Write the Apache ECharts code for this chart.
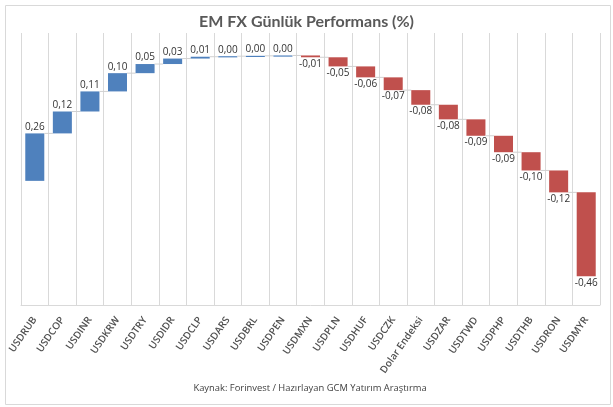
<!DOCTYPE html>
<html>
<head>
<meta charset="utf-8">
<script src="https://cdn.jsdelivr.net/npm/echarts@6/dist/echarts.min.js"></script>
<style>html,body{margin:0;padding:0;background:#fff}#c{width:613px;height:407px}</style>
</head>
<body>
<div id="c"></div>
<script>
const categories = ['USDRUB','USDCOP','USDINR','USDKRW','USDTRY','USDIDR','USDCLP','USDARS','USDBRL','USDPEN','USDMXN','USDPLN','USDHUF','USDCZK','Dolar Endeksi','USDZAR','USDTWD','USDPHP','USDTHB','USDRON','USDMYR'];
const values = [0.26,0.12,0.11,0.10,0.05,0.03,0.01,0.003,0.002,0.002,-0.01,-0.05,-0.06,-0.07,-0.08,-0.08,-0.09,-0.09,-0.10,-0.12,-0.46];
const titleText = 'EM FX Günlük Performans (%)';
const sourceText = 'Kaynak: Forinvest / Hazırlayan GCM Yatırım Araştırma';

const UP = '#4F81BD', DOWN = '#C0504D';
const FONT = '"Open Sans", sans-serif';

// waterfall items: [index, start, end, value]
const items = [];
let cum = 0;
values.forEach((v, i) => { items.push([i, cum, cum + v, v]); cum += v; });

function fmt(v) { return v.toFixed(2).replace('.', ','); }

const chart = echarts.init(document.getElementById('c'), null, {renderer: 'canvas'});
chart.setOption({
  animation: false,
  title: {
    text: titleText, left: 'center', top: 9,
    textStyle: {fontFamily: 'Lato, sans-serif', fontWeight: 'bold', fontSize: 16, color: '#595959'}
  },
  graphic: [
    {type: 'rect', left: 3, top: 3, shape: {width: 605, height: 399},
     style: {fill: 'none', stroke: '#D9D9D9', lineWidth: 1}, silent: true},
    {type: 'text', x: 310, y: 388,
     style: {text: sourceText, font: '9.4px ' + FONT, fill: '#404040', align: 'center', verticalAlign: 'middle'}}
  ],
  grid: {left: 21, right: 13, top: 33, bottom: 102, containLabel: false},
  xAxis: {
    type: 'category', data: categories, boundaryGap: true,
    axisLine: {show: true, onZero: false, lineStyle: {color: '#D9D9D9'}},
    axisTick: {show: false},
    splitLine: {show: true, lineStyle: {color: '#D9D9D9', width: 1}},
    axisLabel: {interval: 0, rotate: 55, margin: 13, fontSize: 10, fontWeight: 600, fontFamily: FONT, color: '#505050'}
  },
  yAxis: {type: 'value', min: -0.68, max: 0.81, show: false, splitLine: {show: false}},
  series: [{
    type: 'custom',
    clip: false,
    data: items,
    encode: {x: 0, y: [1, 2]},
    renderItem: function (params, api) {
      const i = api.value(0), s = api.value(1), e = api.value(2), v = api.value(3);
      const p1 = api.coord([i, s]);
      const p2 = api.coord([i, e]);
      const catW = api.size([1, 0])[0];
      const bw = catW * 0.69;
      const top = Math.min(p1[1], p2[1]);
      const h = Math.max(Math.abs(p1[1] - p2[1]), 1.2);
      const pos = v >= 0;
      const children = [
        {type: 'rect', shape: {x: p1[0] - bw / 2, y: top, width: bw, height: h},
         style: {fill: pos ? UP : DOWN}},
        {type: 'text', x: p1[0], y: pos ? top - 1.5 : top + h + 1.5,
         style: {text: fmt(v), align: 'center', verticalAlign: pos ? 'bottom' : 'top',
                 font: '10px ' + FONT, fill: '#333333'}}
      ];
      if (i < values.length - 1) {
        children.push({type: 'line',
          shape: {x1: p1[0] + bw / 2, y1: p2[1], x2: p1[0] + catW - bw / 2, y2: p2[1]},
          style: {stroke: '#D0D0D0', lineWidth: 1}});
      }
      return {type: 'group', children: children};
    }
  }]
});
</script>
</body>
</html>
